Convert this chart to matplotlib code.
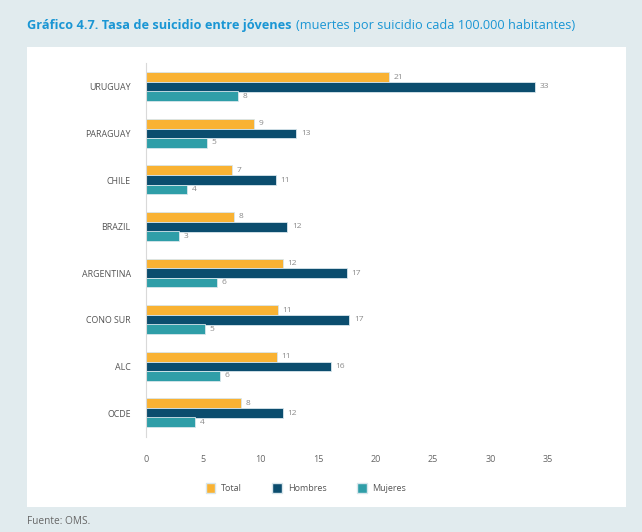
import matplotlib.pyplot as plt
import matplotlib.patches as mpatches
import numpy as np

plt.rcParams['font.family'] = ['Open Sans', 'DejaVu Sans']

# datos
paises = ["URUGUAY", "PARAGUAY", "CHILE", "BRAZIL", "ARGENTINA", "CONO SUR", "ALC", "OCDE"]
total = [21.2, 9.4, 7.5, 7.7, 11.9, 11.5, 11.4, 8.3]
hombres = [33.9, 13.1, 11.3, 12.3, 17.5, 17.7, 16.1, 11.9]
mujeres = [8.0, 5.3, 3.6, 2.9, 6.2, 5.1, 6.4, 4.3]
etiq_total = ["21", "9", "7", "8", "12", "11", "11", "8"]
etiq_hombres = ["33", "13", "11", "12", "17", "17", "16", "12"]
etiq_mujeres = ["8", "5", "4", "3", "6", "5", "6", "4"]

c_total = "#f9b233"
c_hombres = "#0b4d6e"
c_mujeres = "#2f9ea8"
fondo = "#e1ebee"

fig = plt.figure(figsize=(6.42, 5.32), dpi=100, facecolor=fondo)

# panel blanco
fig.patches.append(mpatches.Rectangle((27 / 642, 1 - 507 / 532), 599 / 642, 460 / 532,
                                      transform=fig.transFigure, facecolor="white",
                                      edgecolor="none", zorder=-5))

ax = fig.add_axes([146 / 642, 1 - 437 / 532, 402 / 642, 374 / 532])
ax.set_facecolor("none")

y = np.arange(len(paises))
h = 0.21
series = [(total, etiq_total, c_total, -0.21, "Total"),
          (hombres, etiq_hombres, c_hombres, 0.0, "Hombres"),
          (mujeres, etiq_mujeres, c_mujeres, 0.20, "Mujeres")]
for vals, etiq, col, off, nombre in series:
    ax.barh(y + off, vals, height=h, color=col, edgecolor="#d8e6ec", linewidth=0.6, label=nombre)
    for yi, v, t in zip(y, vals, etiq):
        ax.text(v + 0.4, yi + off, t, va="center", ha="left", fontsize=6, color="#8a8a8a")

ax.set_xlim(0, 35)
ax.set_ylim(len(paises) - 0.485, -0.515)
ax.set_yticks(y)
ax.set_yticklabels(paises, fontsize=6.4, color="#555555")
ax.set_xticks(np.arange(0, 36, 5))
ax.tick_params(axis="x", length=0, pad=13, labelsize=6.5, labelcolor="#666666")
ax.tick_params(axis="y", length=0, pad=11)
for s in ["top", "right", "bottom"]:
    ax.spines[s].set_visible(False)
ax.spines["left"].set_color("#d9d9d9")
ax.spines["left"].set_linewidth(0.8)

handles = [mpatches.Patch(facecolor=c, edgecolor="#d8e6ec", label=n)
           for c, n in [(c_total, "Total"), (c_hombres, "Hombres"), (c_mujeres, "Mujeres")]]
fig.legend(handles=handles, loc="center", bbox_to_anchor=(306 / 642, 1 - 488 / 532), ncol=3,
           frameon=False, fontsize=6.5, handlelength=1.1, handleheight=1.3,
           columnspacing=3.4, handletextpad=0.6, labelcolor="#555555")

# titulo
t1 = fig.text(27 / 642, 1 - 25 / 532, "Gráfico 4.7. Tasa de suicidio entre jóvenes",
              fontsize=9.2, fontweight="bold", color="#1a96d4", va="center", ha="left")
fig.canvas.draw()
bb = t1.get_window_extent()
fig.text((bb.x1 + 4) / 642, 1 - 25 / 532, "(muertes por suicidio cada 100.000 habitantes)",
         fontsize=9.2, color="#1a96d4", va="center", ha="left")

fig.text(27 / 642, 1 - 522 / 532, "Fuente: OMS.", fontsize=7.3, color="#666666",
         va="center", ha="left")

fig.savefig("out.png", dpi=100, facecolor=fondo)
